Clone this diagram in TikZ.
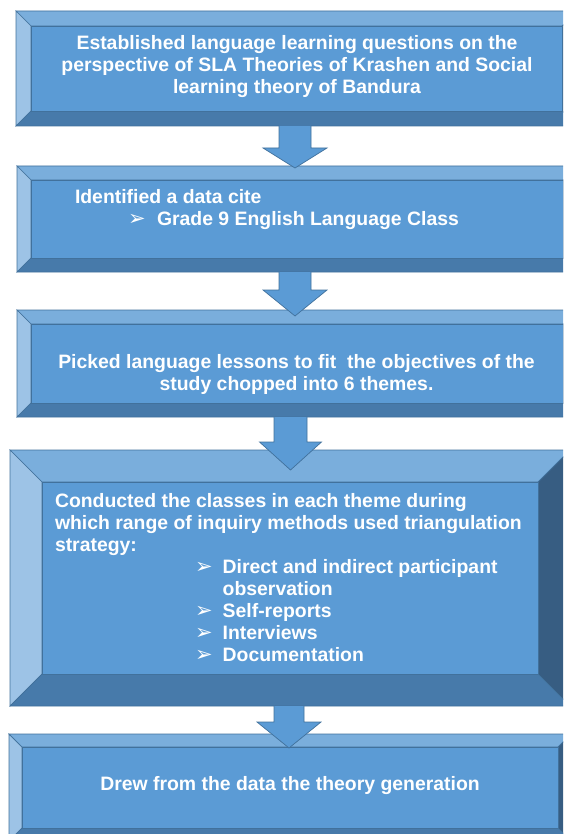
\documentclass[tikz,border=0pt]{standalone}
\usepackage{fontspec}
\setmainfont{Liberation Sans}
\newfontfamily\symfont{DejaVu Sans}
\usetikzlibrary{calc}

\definecolor{facec}{HTML}{5B9BD5}
\definecolor{topc}{HTML}{7AAEDC}
\definecolor{leftc}{HTML}{9DC3E6}
\definecolor{botc}{HTML}{477AAA}
\definecolor{rightc}{HTML}{375D82}
\definecolor{edgec}{HTML}{41719C}

\tikzset{
  bevel/.style={draw=edgec, line width=0.7pt, line join=miter},
  facebox/.style={draw=edgec, line width=0.7pt, fill=facec, inner sep=0pt, outer sep=0pt},
  label/.style={text=white, inner sep=0pt, outer sep=0pt,
    font=\fontsize{19.4}{22}\selectfont\bfseries},
  arrowfill/.style={fill=facec},
  arrowline/.style={draw=edgec, line width=0.7pt, line join=miter},
}

% bevelled box: name, x1, y1, x2, y2, bevel width
\newcommand\bevelbox[6]{%
  \filldraw[bevel, fill=topc] (#2,#3) -- (#4,#3) -- (#4-#6,#3+#6) -- (#2+#6,#3+#6) -- cycle;
  \filldraw[bevel, fill=leftc] (#2,#3) -- (#2+#6,#3+#6) -- (#2+#6,#5-#6) -- (#2,#5) -- cycle;
  \filldraw[bevel, fill=rightc] (#4,#3) -- (#4,#5) -- (#4-#6,#5-#6) -- (#4-#6,#3+#6) -- cycle;
  \filldraw[bevel, fill=botc] (#2,#5) -- (#2+#6,#5-#6) -- (#4-#6,#5-#6) -- (#4,#5) -- cycle;
  \node[facebox, minimum width={(#4-#2-2*#6)*1pt}, minimum height={(#5-#3-2*#6)*1pt}]
    (#1) at ({(#2+#4)/2},{(#3+#5)/2}) {};
}

% block arrow: tail, tip, shaft half width, head half width, head length
\newcommand\blockarrow[5]{%
  \fill[arrowfill] ($(#1)+(-#3,0)$) -- ($(#1)+(#3,0)$) -- ($(#2)+(#3,-#5)$) -- ($(#2)+(#4,-#5)$)
    -- (#2) -- ($(#2)+(-#4,-#5)$) -- ($(#2)+(-#3,-#5)$) -- cycle;
  \draw[arrowline] ($(#1)+(#3,0)$) -- ($(#2)+(#3,-#5)$) -- ($(#2)+(#4,-#5)$)
    -- (#2) -- ($(#2)+(-#4,-#5)$) -- ($(#2)+(-#3,-#5)$) -- ($(#1)+(-#3,0)$);
}

\newcommand\bul{\raisebox{0.5pt}{\symfont\fontsize{21}{21}\selectfont ➢}}

\begin{document}
\begin{tikzpicture}[x=1pt, y=-1pt]
\useasboundingbox (0,0) rectangle (563,834);
\clip (0,0) rectangle (563,834);

% the five steps
\bevelbox{s1}{16}{11}{577}{126}{15}
\bevelbox{s2}{17}{166}{577}{272}{14}
\bevelbox{s3}{17}{310}{577}{417}{14}
\bevelbox{s4}{10}{450}{570}{706}{32}
\bevelbox{s5}{9}{734}{571}{841}{13}

% arrow ends
\coordinate (a1t) at (295,126);  \coordinate (a1h) at (295,168);
\coordinate (a2t) at (295,272);  \coordinate (a2h) at (295,316);
\coordinate (a3t) at (290.5,417); \coordinate (a3h) at (290.5,470);
\coordinate (a4t) at (289,706);  \coordinate (a4h) at (289,748);

\blockarrow{a1t}{a1h}{16}{32}{20}
\blockarrow{a2t}{a2h}{16}{32}{26}
\blockarrow{a3t}{a3h}{16.5}{31}{28}
\blockarrow{a4t}{a4h}{15}{32}{26}

% texts
\node[label, align=center] (t1) at (297,67)
  {Established language learning questions on the\\
   perspective of SLA Theories of Krashen and Social\\
   learning theory of Bandura};

\node[label, align=left, anchor=west] (t2) at (75,210)
  {Identified a data cite\\
   \hspace*{53pt}\makebox[29pt][l]{\bul}Grade 9 English Language Class};

\node[label, align=center] (t3) at (296.5,374)
  {Picked language lessons to fit~ the objectives of the\\
   study chopped into 6 themes.};

\node[label, align=left, anchor=west] (t4) at (55,578)
  {Conducted the classes in each theme during\\
   which range of inquiry methods used triangulation\\
   strategy:\\
   \hspace*{140pt}\makebox[27.7pt][l]{\bul}Direct and indirect participant\\
   \hspace*{167.7pt}observation\\
   \hspace*{140pt}\makebox[27.7pt][l]{\bul}Self-reports\\
   \hspace*{140pt}\makebox[27.7pt][l]{\bul}Interviews\\
   \hspace*{140pt}\makebox[27.7pt][l]{\bul}Documentation};

\node[label, anchor=base] (t5) at (290,790)
  {Drew from the data the theory generation};
\end{tikzpicture}
\end{document}
